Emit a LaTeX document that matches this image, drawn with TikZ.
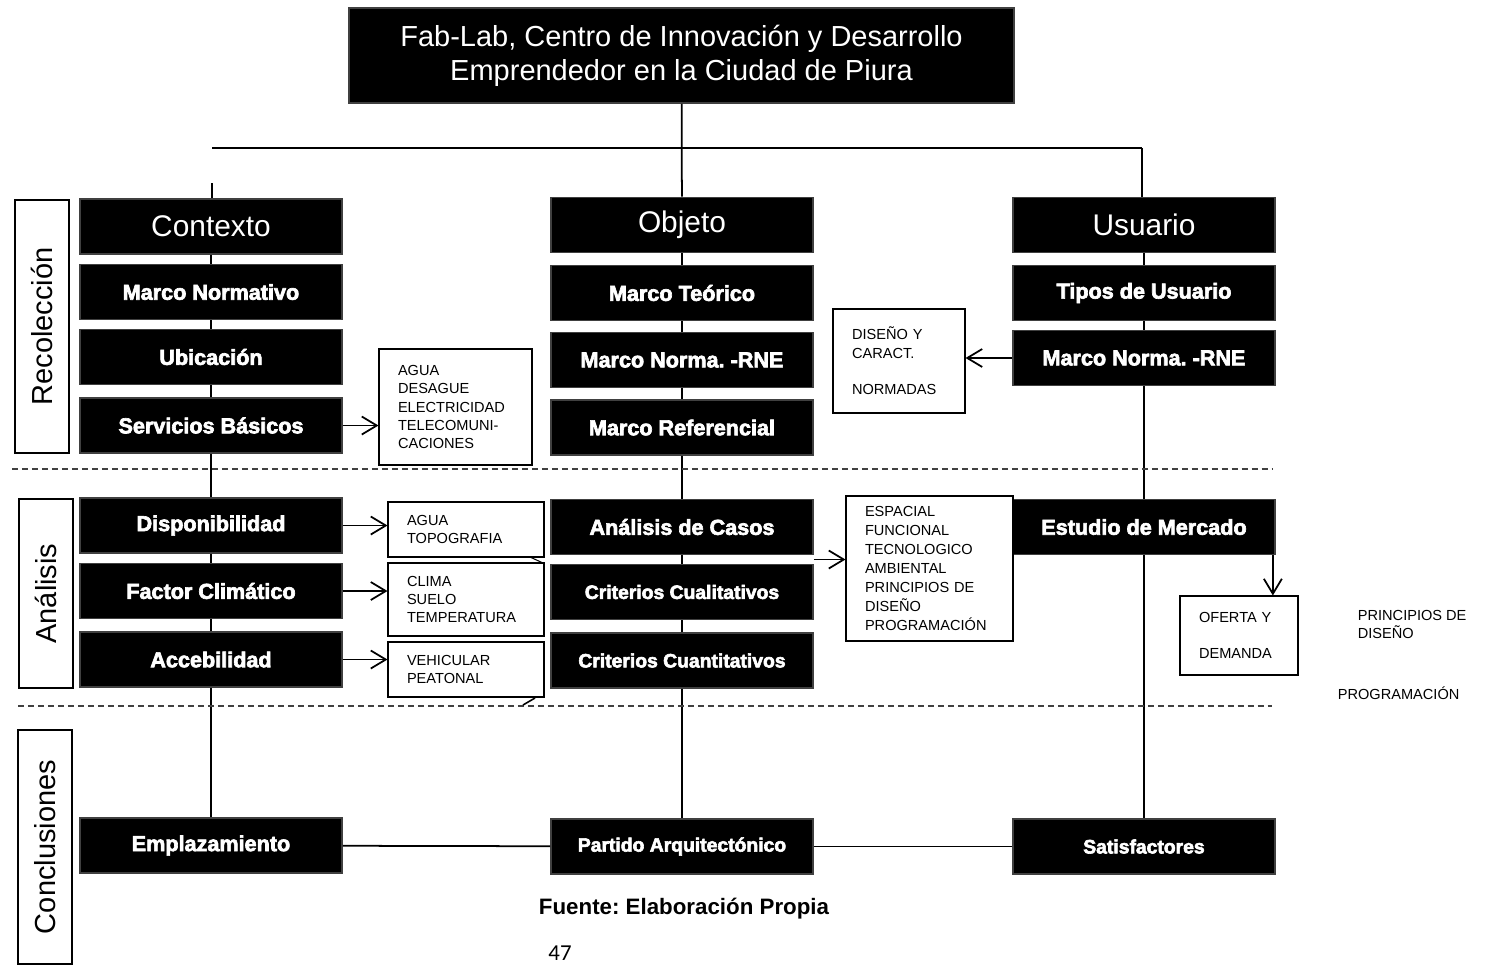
\documentclass[tikz,border=0pt]{standalone}
\usepackage{fontspec}
\setmainfont{Liberation Sans}
\newfontfamily\heavyfont{Liberation Sans}[UprightFont=* Bold,FakeBold=3]
\newfontfamily\pagefont{Carlito}
\frenchspacing
\usetikzlibrary{arrows.meta,calc}
\tikzset{
        blk/.style={fill=black,draw=black!75,text=white,minimum width=5.24cm,minimum height=1.1cm,inner sep=0pt},
        lbl/.style={blk,font=\heavyfont\fontsize{12.3}{15}\selectfont},
        lbls/.style={blk,font=\heavyfont\fontsize{11}{13}\selectfont},
        head/.style={blk,font=\fontsize{17}{20}\selectfont},
        wbox/.style={draw,line width=0.6pt,fill=white,align=left,inner xsep=0.38cm,inner ysep=0pt,font=\fontsize{8.3}{10.4}\selectfont},
        side/.style={draw,line width=1pt,rotate=90,minimum height=1.08cm,font=\fontsize{16.5}{18}\selectfont},
        arr/.style={-{Straight Barb[length=3mm,width=3.6mm]},line width=1pt},
        sep/.style={dash pattern=on 0.12cm off 0.08cm,line width=0.6pt,black!75}
}
\begin{document}
\begin{tikzpicture}[x=0.02cm,y=-0.02cm,line width=1pt]
        \useasboundingbox (0,0) rectangle (1489,965);
        \node[head,minimum width=13.3cm,minimum height=1.9cm,align=center,font=\fontsize{16.5}{19.5}\selectfont] (fab) at (681.5,55.5) {Fab-Lab, Centro de Innovación y Desarrollo\\Emprendedor en la Ciudad de Piura};

        \node[side,minimum width=5.06cm] (recol) at (42,326.5) {Recolección};
        \node[side,minimum width=3.78cm] (anal) at (46,593.5) {Análisis};
        \node[side,minimum width=4.68cm] (concl) at (45,847) {Conclusiones};

        \node[head] (ctx) at (211,226.5) {Contexto};
        \node[lbl] (mnorm) at (211,292) {Marco Normativo};
        \node[lbl] (ubic) at (211,357) {Ubicación};
        \node[lbl] (srv) at (211,425.5) {Servicios Básicos};
        \node[lbl] (disp) at (211,525.5) {Disponibilidad};
        \node[lbl] (clim) at (211,591) {Factor Climático};
        \node[lbl] (acc) at (211,659.5) {Accebilidad};
        \node[lbl] (emp) at (211,845.5) {Emplazamiento};

        \node[head] (obj) at (682,225) {Objeto};
        \node[lbl] (teo) at (682,293) {Marco Teórico};
        \node[lbl] (rnea) at (682,360) {Marco Norma. -RNE};
        \node[lbl] (ref) at (682,427.5) {Marco Referencial};
        \node[lbl] (casos) at (682,527) {Análisis de Casos};
        \node[lbls] (cualit) at (682,592) {Criterios Cualitativos};
        \node[lbls] (cuant) at (682,660.5) {Criterios Cuantitativos};
        \node[lbls] (partido) at (682,846.5) {Partido Arquitectónico};

        \node[head] (usu) at (1144,225) {Usuario};
        \node[lbl] (tipos) at (1144,293) {Tipos de Usuario};
        \node[lbl] (rneb) at (1144,358) {Marco Norma. -RNE};
        \node[lbl] (merc) at (1144,527) {Estudio de Mercado};
        \node[lbls] (satis) at (1144,846.5) {Satisfactores};

        \node[wbox,text width=2.3cm,minimum height=2.32cm] (agua) at (455.5,407) {AGUA\\DESAGUE\\ELECTRICIDAD\\TELECOMUNI-\\CACIONES};
        \node[wbox,text width=2.36cm,minimum height=1.1cm] (topo) at (466,529.5) {AGUA\\TOPOGRAFIA};
        \node[wbox,text width=2.36cm,minimum height=1.46cm] (suelo) at (466,599.5) {CLIMA\\SUELO\\TEMPERATURA};
        \node[wbox,text width=2.36cm,minimum height=1.1cm] (peat) at (466,669.5) {VEHICULAR\\PEATONAL};
        \node[wbox,text width=1.88cm,minimum height=2.08cm] (carac) at (899,361) {DISEÑO Y\\CARACT.\\[\baselineskip]NORMADAS};
        \node[wbox,text width=2.58cm,minimum height=2.9cm,font=\fontsize{8.3}{10.8}\selectfont] (espa) at (929.5,568.5) {ESPACIAL\\FUNCIONAL\\TECNOLOGICO\\AMBIENTAL\\PRINCIPIOS DE\\DISEÑO\\PROGRAMACIÓN};
        \node[wbox,text width=1.6cm,minimum height=1.58cm] (ofer) at (1239,635.5) {OFERTA Y\\[\baselineskip]DEMANDA};

        \node[anchor=north west,inner sep=0pt,align=left,font=\fontsize{8.3}{10.4}\selectfont] (prin) at (1357,609) {PRINCIPIOS DE\\DISEÑO};
        \node[anchor=west,inner sep=0pt,font=\fontsize{8.3}{10.4}\selectfont] (prog) at (1337,693) {PROGRAMACIÓN};
        \node[font=\bfseries\fontsize{12.7}{15}\selectfont] (fuente) at (684,909) {Fuente: Elaboración Propia};
        \node[font=\pagefont\fontsize{13}{15}\selectfont] (pag) at (560,953) {47};

        \coordinate (barl) at (212,148);
        \coordinate (barr) at (1142,148);
        \coordinate (ctxin) at (212,183);
        \draw (barl) -- (barr);
        \draw (fab) -- (obj);
        \draw (barr) -- (barr |- usu.north);
        \draw (ctxin) -- (ctxin |- ctx.north);
        \foreach \a/\b in {ctx/mnorm,mnorm/ubic,ubic/srv,srv/disp,disp/clim,clim/acc,acc/emp,
                obj/teo,teo/rnea,rnea/ref,ref/casos,casos/cualit,cualit/cuant,cuant/partido,
                usu/tipos,tipos/rneb,rneb/merc,merc/satis}
                \draw (\a) -- (\b);
        \draw (emp) -- (partido);
        \draw (partido) -- (satis);

        \draw[arr] (srv.east) -- (srv.east -| agua.west);
        \draw[arr] (disp.east) -- (disp.east -| topo.west);
        \draw[arr] (clim.east) -- (clim.east -| suelo.west);
        \draw[arr] (acc.east) -- (acc.east -| peat.west);
        \draw[arr] (rneb.west) -- (rneb.west -| carac.east);
        \coordinate (crit) at ($(casos.south east)!0.5!(cualit.north east)$);
        \draw[arr] (crit) -- (crit -| espa.west);
        \coordinate (mercout) at ([xshift=-0.06cm]merc.south east);
        \draw[arr] (mercout) -- (mercout |- ofer.north);

        \draw[sep] (12,469) -- (1272,469);
        \draw[sep] (18,706) -- (1272,706);
        \draw[line width=0.6pt] (505,563) -- (543,563) (530,557) -- (543,563);
        \draw[line width=0.9pt] (523,705) -- (535,698);
\end{tikzpicture}
\end{document}
